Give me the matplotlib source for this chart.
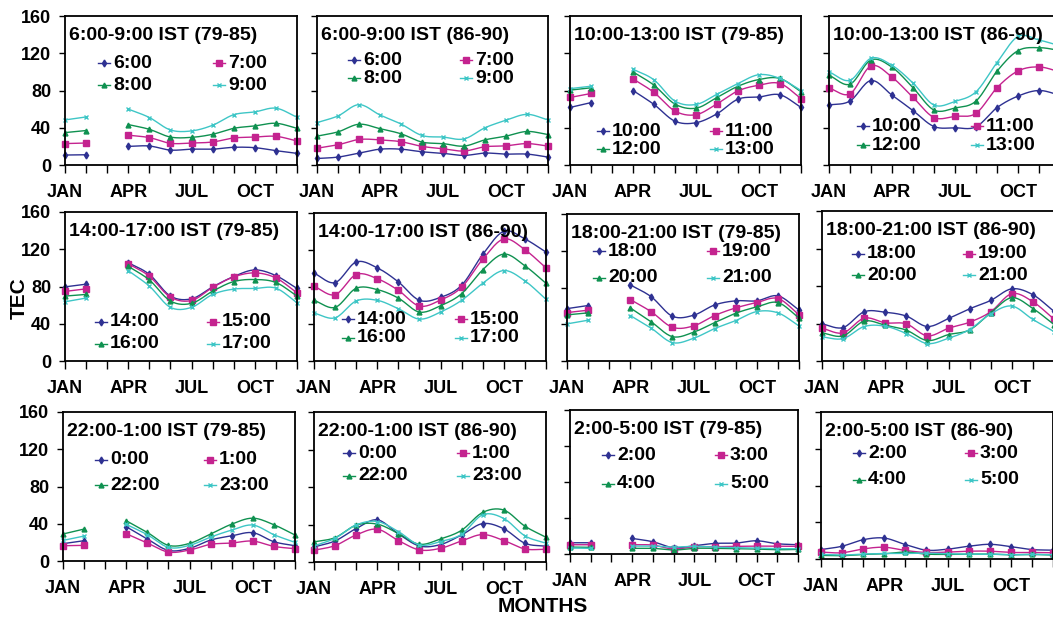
import numpy as np
import matplotlib
matplotlib.use("Agg")
import matplotlib.pyplot as plt

plt.rcParams['font.family'] = ['Liberation Sans', 'DejaVu Sans']
plt.rcParams['font.weight'] = 'bold'

nan = np.nan

months = ['JAN', 'FEB', 'MAR', 'APR', 'MAY', 'JUN', 'JUL', 'AUG', 'SEP', 'OCT', 'NOV', 'DEC']
month_labels = ['JAN', '', '', 'APR', '', '', 'JUL', '', '', 'OCT', '', '']
y_ticks = [0, 40, 80, 120, 160]

# hour labels for each group (legend order)
hours_06 = ['6:00', '7:00', '8:00', '9:00']
hours_10 = ['10:00', '11:00', '12:00', '13:00']
hours_14 = ['14:00', '15:00', '16:00', '17:00']
hours_18 = ['18:00', '19:00', '20:00', '21:00']
hours_22 = ['0:00', '1:00', '22:00', '23:00']
hours_02 = ['2:00', '3:00', '4:00', '5:00']

# TEC values (79-85 has no March value)
tec_06_7985 = [
    [10.7, 11.0, nan, 20.0, 20.4, 16.0, 17.0, 17.0, 19.0, 18.6, 15.4, 12.5],
    [23.0, 23.6, nan, 32.0, 29.4, 23.3, 23.6, 24.7, 29.0, 30.0, 30.8, 25.8],
    [34.8, 37.0, nan, 43.4, 38.3, 30.0, 29.7, 33.0, 39.4, 42.0, 44.8, 39.4],
    [48.4, 51.6, nan, 60.0, 51.0, 37.6, 36.6, 42.7, 54.0, 57.0, 61.0, 51.3],
]
tec_06_8690 = [
    [7.0, 8.5, 12.8, 17.0, 17.0, 14.2, 12.5, 10.3, 12.8, 11.7, 11.7, 8.5],
    [18.0, 21.7, 27.4, 27.0, 25.0, 20.0, 17.4, 15.0, 19.6, 20.6, 23.0, 20.3],
    [31.0, 35.6, 43.8, 39.0, 33.5, 24.6, 23.0, 20.3, 27.0, 31.0, 36.0, 32.7],
    [45.5, 52.7, 64.8, 53.7, 44.0, 31.7, 30.0, 28.0, 40.0, 48.0, 54.4, 48.4],
]
tec_10_7985 = [
    [61.8, 67.0, nan, 80.0, 65.0, 47.0, 45.4, 55.0, 70.7, 73.0, 75.4, 61.8],
    [72.5, 76.8, nan, 92.5, 77.9, 57.9, 54.0, 65.7, 79.6, 85.7, 87.5, 71.4],
    [80.4, 82.9, nan, 100.0, 85.7, 65.4, 61.0, 72.5, 84.6, 91.8, 92.9, 78.6],
    [82.0, 84.6, nan, 102.9, 91.4, 68.6, 65.0, 76.0, 87.5, 97.0, 92.9, 80.0],
]
tec_10_8690 = [
    [64.4, 68.7, 90.7, 75.0, 58.4, 41.3, 40.0, 41.0, 61.6, 74.0, 80.0, 75.0],
    [82.6, 76.5, 106.4, 94.3, 72.6, 51.0, 52.3, 55.5, 83.0, 101.0, 105.3, 100.0],
    [96.4, 86.8, 112.8, 105.0, 83.0, 59.0, 61.2, 68.7, 100.7, 122.8, 126.0, 123.0],
    [100.0, 91.0, 114.6, 107.0, 88.0, 64.4, 68.3, 78.6, 110.0, 138.0, 134.2, 128.0],
]
tec_14_7985 = [
    [79.6, 82.5, nan, 105.6, 93.0, 69.7, 66.8, 79.6, 90.7, 97.8, 91.7, 77.9],
    [74.7, 77.5, nan, 104.5, 91.0, 68.6, 65.0, 79.0, 90.3, 94.6, 89.2, 73.2],
    [69.7, 71.5, nan, 101.7, 87.0, 64.4, 61.9, 75.0, 85.3, 87.5, 84.3, 69.7],
    [63.6, 67.6, nan, 97.0, 80.4, 57.6, 57.6, 71.5, 77.2, 77.9, 78.2, 62.6],
]
tec_14_8690 = [
    [95.0, 84.8, 107.0, 100.7, 85.5, 65.6, 68.8, 81.9, 115.2, 140.2, 131.9, 117.8],
    [80.8, 71.7, 93.5, 89.0, 76.4, 59.4, 65.9, 79.7, 110.0, 131.9, 120.3, 100.7],
    [65.6, 58.0, 78.6, 77.2, 68.0, 52.9, 59.8, 72.8, 98.6, 115.6, 102.9, 84.0],
    [51.8, 46.7, 64.9, 65.6, 56.5, 45.3, 52.9, 65.6, 84.0, 97.8, 86.6, 66.7],
]
tec_18_7985 = [
    [57.0, 60.4, nan, 82.9, 69.8, 48.7, 49.8, 61.0, 65.5, 65.5, 70.9, 55.6],
    [52.7, 55.3, nan, 66.9, 53.5, 36.7, 38.2, 49.5, 57.8, 63.6, 68.0, 50.5],
    [50.2, 52.4, nan, 57.8, 42.5, 26.5, 31.3, 41.8, 52.0, 58.9, 63.6, 46.9],
    [40.4, 44.4, nan, 49.5, 35.6, 20.0, 24.7, 35.3, 44.0, 53.8, 52.4, 38.2],
]
tec_18_8690 = [
    [39.6, 35.7, 52.5, 52.0, 47.9, 36.8, 45.4, 55.7, 64.6, 77.0, 70.7, 52.9],
    [35.0, 30.0, 45.7, 40.7, 39.6, 26.8, 35.0, 41.4, 52.5, 71.8, 63.2, 44.6],
    [30.0, 26.8, 42.5, 38.2, 32.9, 21.8, 28.2, 33.2, 51.4, 67.5, 56.0, 38.9],
    [25.7, 23.9, 36.8, 37.1, 29.3, 18.6, 24.3, 33.6, 50.4, 58.6, 44.3, 31.4],
]
tec_22_7985 = [
    [18.6, 21.8, nan, 36.8, 23.6, 11.4, 13.6, 22.5, 27.0, 30.4, 20.7, 16.4],
    [16.4, 16.8, nan, 29.3, 19.3, 9.6, 11.8, 17.9, 19.3, 21.4, 15.7, 13.2],
    [29.0, 34.3, nan, 43.2, 30.7, 16.8, 18.9, 29.0, 39.6, 46.0, 38.9, 27.9],
    [22.1, 26.8, nan, 39.3, 28.2, 14.6, 16.8, 25.7, 33.2, 38.6, 28.2, 20.0],
]
tec_22_8690 = [
    [16.0, 22.5, 35.7, 45.0, 30.0, 17.1, 18.6, 28.9, 41.0, 35.4, 20.0, 16.8],
    [12.5, 17.5, 28.9, 35.0, 22.9, 12.9, 14.6, 22.5, 29.3, 22.9, 13.9, 13.6],
    [21.4, 26.0, 39.3, 40.4, 30.4, 18.9, 24.6, 33.9, 52.9, 55.4, 38.2, 26.4],
    [17.1, 25.4, 39.6, 43.2, 32.5, 18.2, 21.8, 29.6, 50.4, 46.4, 27.9, 20.0],
]
tec_02_7985 = [
    [12.5, 12.5, nan, 17.3, 13.6, 7.0, 9.2, 11.8, 12.1, 14.7, 11.4, 10.3],
    [10.3, 10.3, nan, 10.3, 9.9, 5.5, 8.1, 8.1, 8.5, 8.8, 8.5, 8.5],
    [7.7, 7.4, nan, 6.3, 6.3, 4.4, 6.3, 6.3, 5.9, 5.5, 4.8, 5.1],
    [6.6, 6.3, nan, 8.8, 8.8, 7.7, 8.5, 7.7, 7.0, 6.6, 5.9, 5.9],
]
tec_02_8690 = [
    [10.3, 13.9, 21.0, 22.8, 15.7, 9.6, 10.7, 13.9, 16.0, 13.5, 10.3, 9.6],
    [7.5, 6.8, 11.0, 12.8, 9.3, 7.1, 7.5, 8.5, 8.5, 7.1, 7.1, 6.8],
    [3.9, 3.6, 5.0, 5.7, 7.5, 5.3, 5.0, 5.3, 5.3, 4.6, 5.0, 4.3],
    [5.0, 4.3, 5.3, 6.0, 6.0, 6.4, 5.7, 5.3, 5.3, 4.6, 5.0, 4.6],
]

colors = ['#2e3192', '#c4238f', '#0f9150', '#3ec6c6']
markers = ['d', 's', '^', 'x']
msizes = [3.5, 4.0, 3.5, 3.5]

W, H = 1053, 621
fig = plt.figure(figsize=(W / 100, H / 100), dpi=100)


def smooth(x, y, n=16):
    """Catmull-Rom curve through the points (like Excel smoothed lines)."""
    x = np.asarray(x, float)
    y = np.asarray(y, float)
    out_x, out_y = [], []
    ok = ~np.isnan(y)
    runs, cur = [], []
    for i in range(len(y)):
        if ok[i]:
            cur.append(i)
        elif cur:
            runs.append(cur)
            cur = []
    if cur:
        runs.append(cur)
    for run in runs:
        px, py = x[run], y[run]
        if len(run) < 3:
            out_x += list(px) + [nan]
            out_y += list(py) + [nan]
            continue
        qx = np.concatenate([[2 * px[0] - px[1]], px, [2 * px[-1] - px[-2]]])
        qy = np.concatenate([[2 * py[0] - py[1]], py, [2 * py[-1] - py[-2]]])
        t = np.linspace(0, 1, n)
        for i in range(1, len(qx) - 2):
            for q, res in ((qx, out_x), (qy, out_y)):
                p0, p1, p2, p3 = q[i - 1], q[i], q[i + 1], q[i + 2]
                v = 0.5 * ((2 * p1) + (-p0 + p2) * t + (2 * p0 - 5 * p1 + 4 * p2 - p3) * t ** 2
                           + (-p0 + 3 * p1 - 3 * p2 + p3) * t ** 3)
                res.extend(v)
        out_x.append(nan)
        out_y.append(nan)
    return out_x, out_y


# (title, hours, data, rect px [l, t, r, b], legend [x, y1, row gap, col gap] px)
panels = [
    ('6:00-9:00 IST (79-85)', hours_06, tec_06_7985, (65, 16, 297, 165), (33, 47, 22, 115)),
    ('6:00-9:00 IST (86-90)', hours_06, tec_06_8690, (317, 16, 548, 165), (31, 44, 18, 112)),
    ('10:00-13:00 IST (79-85)', hours_10, tec_10_7985, (570, 16, 801, 165), (27, 115, 18, 113)),
    ('10:00-13:00 IST (86-90)', hours_10, tec_10_8690, (829, 16, 1060, 165), (28, 110, 19, 114)),
    ('14:00-17:00 IST (79-85)', hours_14, tec_14_7985, (65, 212, 297, 361), (30, 110, 22, 112)),
    ('14:00-17:00 IST (86-90)', hours_14, tec_14_8690, (314, 213, 546, 361), (28, 106, 19, 113)),
    ('18:00-21:00 IST (79-85)', hours_18, tec_18_7985, (567, 214, 799, 361), (26, 37, 27, 114)),
    ('18:00-21:00 IST (86-90)', hours_18, tec_18_8690, (822, 211, 1054, 361), (30, 43, 21, 111)),
    ('22:00-1:00 IST (79-85)', hours_22, tec_22_7985, (63, 412, 295, 561), (32, 48, 25, 109)),
    ('22:00-1:00 IST (86-90)', hours_22, tec_22_8690, (314, 412, 546, 562), (29, 41, 23, 114)),
    ('2:00-5:00 IST (79-85)', hours_02, tec_02_7985, (570, 410, 798, 554), (32, 45, 29, 113)),
    ('2:00-5:00 IST (86-90)', hours_02, tec_02_8690, (821, 412, 1053, 559), (32, 41, 27, 112)),
]

xs = np.arange(len(months))

for k, (title, hours, data, rect, leg) in enumerate(panels):
    l, t, r, b = rect
    ax = fig.add_axes([l / W, 1 - b / H, (r - l) / W, (b - t) / H])
    aw, ah = r - l, b - t
    for i, series in enumerate(data):
        sx, sy = smooth(xs, series)
        ax.plot(sx, sy, color=colors[i], lw=1.0, clip_on=False)
        ax.plot(xs, series, ls='none', marker=markers[i], ms=msizes[i],
                color=colors[i], mew=1.0, clip_on=False)

    ax.set_xlim(0, 11)
    ax.set_ylim(0, 160)
    ax.set_xticks(xs)
    ax.set_xticklabels(month_labels, fontsize=13, fontweight='bold')
    ax.set_yticks(y_ticks)
    if k % 4 == 0:
        ax.set_yticklabels([str(v) for v in y_ticks], fontsize=13, fontweight='bold')
    else:
        ax.set_yticklabels([])
    ax.tick_params(axis='x', direction='out', length=6, width=1, pad=8)
    ax.tick_params(axis='y', direction='out', length=4, width=1, pad=6)
    for s in ax.spines.values():
        s.set_linewidth(1.3)

    ax.text(4 / aw, 1 - 24 / ah, title, transform=ax.transAxes, fontsize=14,
            fontweight='bold', ha='left', va='baseline')

    # legend drawn as 2x2 grid: row1 -> series 0,1 ; row2 -> series 2,3
    lx, ly, gap, cgap = leg
    for i, lab in enumerate(hours):
        col, row = i % 2, i // 2
        hx = (lx + col * cgap) / aw
        hy = 1 - (ly + row * gap) / ah
        ax.plot([hx, hx + 12 / aw], [hy, hy], color=colors[i], lw=1.0,
                transform=ax.transAxes, clip_on=False)
        ax.plot([hx + 6 / aw], [hy], marker=markers[i], ms=msizes[i], color=colors[i],
                transform=ax.transAxes, clip_on=False, ls='none')
        ax.text(hx + 15 / aw, hy, lab, transform=ax.transAxes, fontsize=14,
                fontweight='bold', ha='left', va='center')

fig.text(19 / W, 1 - 298 / H, 'TEC', rotation=90, fontsize=15, fontweight='bold',
         ha='center', va='center')
fig.text(543 / W, 1 - 607 / H, 'MONTHS', fontsize=15, fontweight='bold',
         ha='center', va='center')

fig.savefig('out.png', dpi=100)
